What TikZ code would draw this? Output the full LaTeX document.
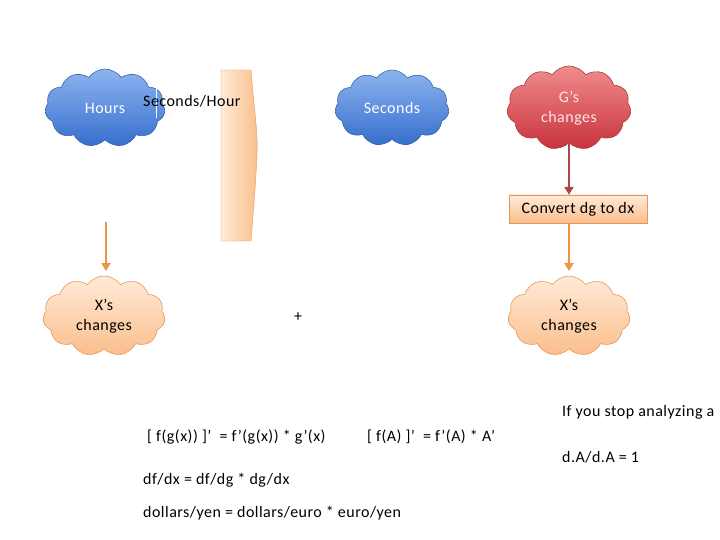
\documentclass[tikz,border=0pt]{standalone}
\usepackage{fontspec}
\setmainfont{Carlito}[LetterSpace=3]
\usetikzlibrary{shapes.symbols,arrows.meta}
\definecolor{bluetop}{RGB}{140,180,240}
\definecolor{bluebot}{RGB}{55,110,205}
\definecolor{blueline}{RGB}{60,100,170}
\definecolor{redtop}{RGB}{240,140,140}
\definecolor{redbot}{RGB}{200,50,60}
\definecolor{redline}{RGB}{170,60,60}
\definecolor{orgtop}{RGB}{255,235,215}
\definecolor{orgbot}{RGB}{250,190,140}
\definecolor{orgline}{RGB}{230,150,90}
\definecolor{arrred}{RGB}{170,70,70}
\definecolor{arrorg}{RGB}{235,150,70}
\tikzset{
 cl/.style={cloud, cloud puffs=11, cloud puff arc=110, aspect=1.6, draw, line width=0.6pt, align=center, font=\fontsize{16}{20}\selectfont},
 bluecl/.style={cl, draw=blueline, top color=bluetop, bottom color=bluebot, text=white},
 redcl/.style={cl, draw=redline, top color=redtop, bottom color=redbot, text=white!90!red},
 orgcl/.style={cl, draw=orgline, top color=orgtop, bottom color=orgbot, text=black},
 txt/.style={font=\fontsize{16}{18}\selectfont, inner sep=0pt},
 arr/.style={line width=2.2pt, -{Triangle[length=8pt,width=9pt]}}
}
\begin{document}
\begin{tikzpicture}[x=1pt,y=-1pt]
\useasboundingbox (0,0) rectangle (720,540);
\node[bluecl, minimum width=120pt, minimum height=78pt] (hours) at (105,108) {Hours};
\node[bluecl, minimum width=114pt, minimum height=76pt] (sec) at (392,108) {Seconds};
\node[redcl, minimum width=124pt, minimum height=84pt] (g) at (569,108) {G’s\\changes};
\node[draw=orgline, top color=orgtop, bottom color=orgbot, minimum width=138pt, minimum height=28pt, inner sep=0pt, font=\fontsize{16}{18}\selectfont] (conv) at (578,209) {Convert dg to dx};
\node[orgcl, minimum width=122pt, minimum height=80pt] (xl) at (104,316) {X’s\\changes};
\node[orgcl, minimum width=122pt, minimum height=80pt] (xr) at (569,316) {X’s\\changes};
\draw[white, line width=0.8pt] (156,73) -- (156,118);
\path[draw=orgline, left color=orgtop, right color=orgbot] (221,70) -- (251,70) .. controls (254,110) and (258,130) .. (257,155) .. controls (256,180) and (253,215) .. (251,241) -- (221,241) -- cycle;
\node[txt, anchor=west] (sph) at (143,101) {Seconds/Hour};
\coordinate (la) at (106,222);
\coordinate (lb) at (106,271);
\draw[arr, arrorg] (la) -- (lb);
\draw[arr, arrred] (g.south) -- (conv.north -| g.south);
\coordinate (ca) at (569,223);
\coordinate (cb) at (569,271);
\draw[arr, arrorg] (ca) -- (cb);
\node[txt] (plus) at (298,317) {+};
\node[txt, anchor=west] (t1) at (562,412) {If you stop analyzing a};
\node[txt, anchor=west] (t2) at (147,437) {[ f(g(x)) ]’ \ = f’(g(x)) * g’(x)};
\node[txt, anchor=west] (t3) at (367,437) {[ f(A) ]’ \ = f’(A) * A’};
\node[txt, anchor=west] (t4) at (562,457) {d.A/d.A = 1};
\node[txt, anchor=west] (t5) at (143,480) {df/dx = df/dg * dg/dx};
\node[txt, anchor=west] (t6) at (143,513) {dollars/yen = dollars/euro * euro/yen};
\end{tikzpicture}
\end{document}
